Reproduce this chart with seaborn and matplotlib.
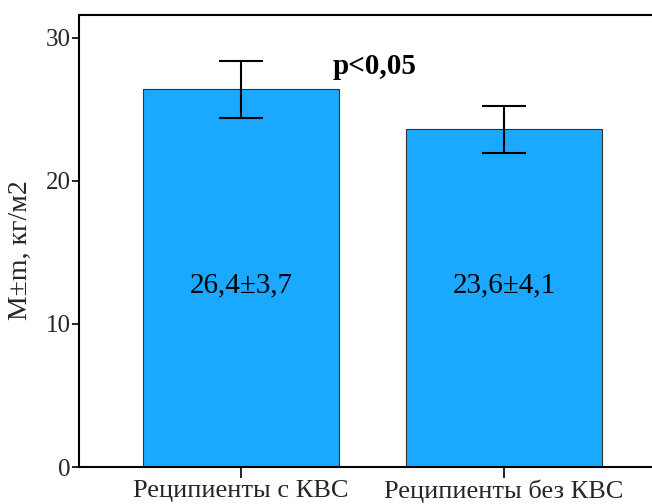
import matplotlib
matplotlib.use("Agg")
import matplotlib.pyplot as plt
import seaborn as sns
import pandas as pd

groups = ["Реципиенты с КВС", "Реципиенты без КВС"]
means = [26.4, 23.6]
sds = [3.7, 4.1]
sems = [2.0, 1.65]
y_ticks = [0, 10, 20, 30]
y_label = "M±m, кг/м2"
p_text = "p<0,05"

sns.set_theme(style="white")
plt.rcParams["font.family"] = ["Liberation Serif", "DejaVu Serif"]

df = pd.DataFrame({"group": groups, "mean": means})

fig = plt.figure(figsize=(6.52, 5.04), dpi=100)
ax = fig.add_axes([79 / 652, 1 - 467 / 504, (666 - 79) / 652, (467 - 15) / 504])

sns.barplot(data=df, x="group", y="mean", ax=ax, color="#1BA8FF",
            saturation=1, width=0.745, edgecolor="#333333", linewidth=0.8,
            errorbar=None)

ax.errorbar(range(len(groups)), means, yerr=sems, fmt="none", ecolor="black",
            elinewidth=1.5, capsize=16, capthick=1.5)

for i, (m, s) in enumerate(zip(means, sds)):
    ax.text(i, 12.2, f"{m:.1f}±{s:.1f}".replace(".", ","), ha="center",
            va="baseline", fontsize=21, color="black")

ax.text(0.35, 27.5, p_text, ha="left", va="baseline", fontsize=21,
        fontweight="bold", color="black")

ax.set_xlim(-0.616, 1.616)
ax.set_ylim(0, 31.6)
ax.set_yticks(y_ticks)
ax.set_yticklabels([str(t) for t in y_ticks], fontsize=18)
ax.set_xticks(range(len(groups)))
ax.set_xticklabels(groups, fontsize=19)
ax.set_xlabel("")
ax.set_ylabel(y_label, fontsize=20)
ax.yaxis.set_label_coords(-0.078, 0.48)

for side in ["left", "bottom", "top"]:
    ax.spines[side].set_visible(True)
    ax.spines[side].set_color("black")
    ax.spines[side].set_linewidth(1.5)
ax.spines["right"].set_visible(False)

ax.tick_params(axis="y", direction="out", length=5, width=1.2, color="black",
               left=True, pad=1)
ax.tick_params(axis="x", direction="out", length=8, width=1.2, color="black",
               bottom=True, pad=1)

fig.savefig("out.png", dpi=100)
